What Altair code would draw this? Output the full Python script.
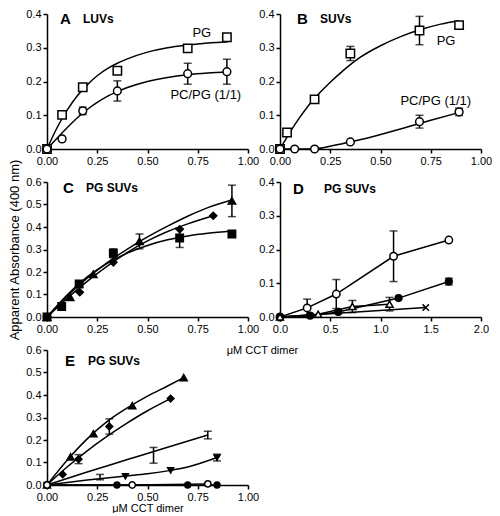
import altair as alt
import pandas as pd

FONT = "Liberation Sans"
W, H = 201, 135

# ---------------- Panel A : LUVs ----------------
A_X = [0, 0.075, 0.178, 0.35, 0.70, 0.895]
A_PG = [0, 0.101, 0.183, 0.232, 0.298, 0.331]
A_PCPG = [0, 0.030, 0.113, 0.172, 0.223, 0.229]
A_PCPG_ERR = [0, 0, 0.011, 0.030, 0.031, 0.037]
A_FIT_X = [0, 0.05, 0.1, 0.15, 0.2, 0.25, 0.3, 0.35, 0.4, 0.5, 0.6, 0.7, 0.8, 0.9]
A_FIT_PG = [0, 0.063, 0.115, 0.157, 0.19, 0.217, 0.238, 0.254, 0.267, 0.287, 0.300, 0.308, 0.314, 0.318]
A_FIT_PCPG = [0, 0.032, 0.063, 0.092, 0.117, 0.138, 0.156, 0.17, 0.182, 0.2, 0.212, 0.22, 0.225, 0.228]
A_LABELS = ["PG", "PC/PG (1/1)"]
A_LABEL_X = [0.77, 0.79]
A_LABEL_Y = [0.345, 0.159]

# ---------------- Panel B : SUVs ----------------
B_X_PG = [0, 0.035, 0.172, 0.35, 0.694, 0.891]
B_PG = [0, 0.049, 0.147, 0.283, 0.351, 0.367]
B_PG_ERR = [0, 0, 0, 0.021, 0.042, 0]
B_X_PCPG = [0, 0.073, 0.172, 0.35, 0.694, 0.891]
B_PCPG = [0, 0, 0, 0.021, 0.081, 0.110]
B_PCPG_ERR = [0, 0, 0, 0, 0.019, 0.011]
B_FIT_X = [0, 0.05, 0.1, 0.15, 0.2, 0.25, 0.3, 0.35, 0.4, 0.5, 0.6, 0.7, 0.8, 0.89]
B_FIT_PG = [0, 0.05, 0.095, 0.135, 0.168, 0.198, 0.225, 0.25, 0.272, 0.306, 0.333, 0.354, 0.37, 0.38]
B_FIT_PCPG_X = [0, 0.1, 0.18, 0.25, 0.35, 0.45, 0.55, 0.65, 0.75, 0.891]
B_FIT_PCPG = [0, 0, 0.001, 0.008, 0.021, 0.035, 0.051, 0.068, 0.085, 0.108]
B_LABELS = ["PG", "PC/PG (1/1)"]
B_LABEL_X = [0.826, 0.775]
B_LABEL_Y = [0.32, 0.141]

# ---------------- Panel C : PG SUVs ----------------
C_SQ_X = [0, 0.073, 0.16, 0.33, 0.66, 0.92]
C_SQ_Y = [0, 0.047, 0.147, 0.283, 0.351, 0.369]
C_SQ_ERR = [0, 0, 0, 0.02, 0.042, 0]
C_TRI_X = [0, 0.115, 0.23, 0.46, 0.92]
C_TRI_Y = [0, 0.088, 0.19, 0.336, 0.516]
C_TRI_ERR = [0, 0, 0, 0.033, 0.07]
C_DIA_X = [0, 0.163, 0.33, 0.66, 0.827]
C_DIA_Y = [0, 0.11, 0.243, 0.39, 0.45]
C_FIT_X = [0, 0.1, 0.2, 0.3, 0.4, 0.5, 0.6, 0.7, 0.8, 0.92]
C_FIT_TRI = [0, 0.092, 0.172, 0.242, 0.302, 0.356, 0.404, 0.448, 0.486, 0.52]
C_FIT_SQ = [0, 0.098, 0.178, 0.238, 0.284, 0.318, 0.343, 0.36, 0.372, 0.382]
C_FIT_DIA_X = [0, 0.1, 0.2, 0.3, 0.4, 0.5, 0.6, 0.7, 0.827]
C_FIT_DIA = [0, 0.083, 0.158, 0.226, 0.287, 0.338, 0.38, 0.414, 0.45]

# ---------------- Panel D : PG SUVs ----------------
D_OC_X = [0, 0.27, 0.56, 1.13, 1.68]
D_OC_Y = [0, 0.027, 0.068, 0.18, 0.228]
D_OC_ERR = [0, 0.026, 0.043, 0.075, 0]
D_FC_X = [0, 0.3, 0.58, 1.18, 1.68]
D_FC_Y = [0, 0.004, 0.015, 0.056, 0.105]
D_FC_ERR = [0, 0, 0, 0, 0.01]
D_OT_X = [0, 0.38, 0.72, 1.09]
D_OT_Y = [0, 0.008, 0.031, 0.038]
D_OT_ERR = [0, 0, 0.018, 0.02]
D_X_X = [0, 1.45]
D_X_Y = [0, 0.028]

# ---------------- Panel E : PG SUVs ----------------
E_TRI_X = [0, 0.117, 0.231, 0.424, 0.68]
E_TRI_Y = [0, 0.125, 0.228, 0.353, 0.477]
E_FIT_TRI_X = [0, 0.1, 0.2, 0.3, 0.4, 0.5, 0.6, 0.68]
E_FIT_TRI = [0, 0.11, 0.205, 0.283, 0.343, 0.395, 0.44, 0.477]
E_DIA_X = [0, 0.078, 0.157, 0.31, 0.615]
E_DIA_Y = [0, 0.047, 0.115, 0.26, 0.384]
E_DIA_ERR = [0, 0, 0.02, 0.034, 0]
E_FIT_DIA_X = [0, 0.1, 0.2, 0.3, 0.4, 0.5, 0.615]
E_FIT_DIA = [0, 0.08, 0.152, 0.217, 0.276, 0.33, 0.384]
E_BAR_X = [0, 0.264, 0.53, 0.80]
E_BAR_Y = [0, 0.035, 0.132, 0.222]
E_BAR_ERR = [0, 0.012, 0.035, 0.017]
E_FIT_BAR_X = [0, 0.2, 0.4, 0.6, 0.8]
E_FIT_BAR = [0, 0.058, 0.113, 0.168, 0.222]
E_DT_X = [0, 0.39, 0.615, 0.846]
E_DT_Y = [0, 0.039, 0.065, 0.122]
E_DT_ERR = [0, 0, 0, 0.015]
E_FIT_DT_X = [0, 0.2, 0.39, 0.5, 0.615, 0.7, 0.846]
E_FIT_DT = [0, 0.022, 0.04, 0.05, 0.065, 0.08, 0.122]
E_FC_X = [0, 0.348, 0.70, 0.846]
E_FC_Y = [0, 0, 0, 0]
E_OC_X = [0, 0.424, 0.80]
E_OC_Y = [0, 0, 0.005]

TICKS_01 = [0, 0.25, 0.5, 0.75, 1.0]
TICKS_02 = [0, 0.5, 1.0, 1.5, 2.0]
Y04 = [0, 0.1, 0.2, 0.3, 0.4]
Y06 = [0, 0.1, 0.2, 0.3, 0.4, 0.5, 0.6]

XPATH = "M-1,-1L1,1M-1,1L1,-1"
LW = 1.5


def frame(x, y):
    return pd.DataFrame({"x": x, "y": y})


def make_enc(xdom, ydom, xvals, yvals, xfmt, yfmt, xax=None, yax=None):
    xa = dict(values=xvals, format=xfmt, title=None)
    ya = dict(values=yvals, format=yfmt, title=None)
    if xax:
        xa.update(xax)
    if yax:
        ya.update(yax)
    X = alt.X("x:Q", scale=alt.Scale(domain=xdom, nice=False, zero=False), axis=alt.Axis(**xa))
    Y = alt.Y("y:Q", scale=alt.Scale(domain=ydom, nice=False, zero=False), axis=alt.Axis(**ya))
    return X, Y


def line(x, y, X, Y, interp="monotone"):
    return alt.Chart(frame(x, y)).mark_line(
        color="black", strokeWidth=LW, interpolate=interp
    ).encode(x=X, y=Y)


def points(x, y, X, Y, shape, fill, size):
    return alt.Chart(frame(x, y)).mark_point(
        shape=shape, filled=True, fill=fill, stroke="black",
        strokeWidth=LW, size=size, opacity=1
    ).encode(x=X, y=Y)


def errbars(x, y, e, X, Y):
    rows = [(xi, yi - ei, yi + ei) for xi, yi, ei in zip(x, y, e) if ei > 0]
    bars = pd.DataFrame(rows, columns=["x", "y", "y2"])
    caps = pd.DataFrame([(r[0], r[1]) for r in rows] + [(r[0], r[2]) for r in rows],
                        columns=["x", "y"])
    r = alt.Chart(bars).mark_rule(color="black", strokeWidth=LW).encode(
        x=X, y=Y, y2="y2:Q")
    t = alt.Chart(caps).mark_tick(orient="horizontal", size=8, thickness=LW,
                                  color="black").encode(x=X, y=Y)
    return [r, t]


def panel_label(text, px, py, size):
    return alt.Chart(pd.DataFrame({"t": [text]})).mark_text(
        align="left", baseline="middle", font=FONT, fontSize=size,
        fontWeight="bold", color="black"
    ).encode(x=alt.value(px), y=alt.value(py), text="t:N")


def data_text(texts, xs, ys, X, Y):
    df = pd.DataFrame({"x": xs, "y": ys, "t": texts})
    return alt.Chart(df).mark_text(
        align="center", baseline="middle", font=FONT, fontSize=13, color="black"
    ).encode(x=X, y=Y, text="t:N")


# ---- A ----
X, Y = make_enc([0, 1], [0, 0.4], TICKS_01, Y04, ".2f", ".1f")
pA = alt.layer(
    line(A_FIT_X, A_FIT_PG, X, Y),
    line(A_FIT_X, A_FIT_PCPG, X, Y),
    *errbars(A_X, A_PCPG, A_PCPG_ERR, X, Y),
    points(A_X, A_PG, X, Y, "square", "white", 70),
    points(A_X, A_PCPG, X, Y, "circle", "white", 60),
    data_text(A_LABELS, A_LABEL_X, A_LABEL_Y, X, Y),
    panel_label("A", 13, 5, 15),
    panel_label("LUVs", 36, 5, 12),
).properties(width=W, height=H)

# ---- B ----
X, Y = make_enc([0, 1], [0, 0.4], TICKS_01, Y04, ".2f", ".1f")
pB = alt.layer(
    line(B_FIT_X, B_FIT_PG, X, Y),
    line(B_FIT_PCPG_X, B_FIT_PCPG, X, Y),
    *errbars(B_X_PG, B_PG, B_PG_ERR, X, Y),
    *errbars(B_X_PCPG, B_PCPG, B_PCPG_ERR, X, Y),
    points(B_X_PG, B_PG, X, Y, "square", "white", 70),
    points(B_X_PCPG, B_PCPG, X, Y, "circle", "white", 60),
    data_text(B_LABELS, B_LABEL_X, B_LABEL_Y, X, Y),
    panel_label("B", 17, 5, 15),
    panel_label("SUVs", 40, 5, 12),
).properties(width=W, height=H)

# ---- C ----
X, Y = make_enc([0, 1], [0, 0.6], TICKS_01, Y06, ".2f", ".1f",
                xax=dict(title="\u03bcM CCT dimer", titleX=215, titleY=33,
                         titleBaseline="middle", titleFontSize=11),
                yax=dict(title="Apparent Absorbance (400 nm)", titlePadding=4))
pC = alt.layer(
    line(C_FIT_X, C_FIT_TRI, X, Y),
    line(C_FIT_X, C_FIT_SQ, X, Y),
    line(C_FIT_DIA_X, C_FIT_DIA, X, Y),
    *errbars(C_SQ_X, C_SQ_Y, C_SQ_ERR, X, Y),
    *errbars(C_TRI_X, C_TRI_Y, C_TRI_ERR, X, Y),
    points(C_SQ_X, C_SQ_Y, X, Y, "square", "black", 55),
    points(C_TRI_X, C_TRI_Y, X, Y, "triangle-up", "black", 55),
    points(C_DIA_X, C_DIA_Y, X, Y, "diamond", "black", 50),
    panel_label("C", 16, 6, 15),
    panel_label("PG SUVs", 39, 6, 12),
).properties(width=W, height=H)

# ---- D ----
X, Y = make_enc([0, 2], [0, 0.4], TICKS_02, Y04, ".1f", ".1f")
pD = alt.layer(
    line(D_OC_X, D_OC_Y, X, Y, "linear"),
    line(D_FC_X, D_FC_Y, X, Y, "linear"),
    line(D_OT_X, D_OT_Y, X, Y, "linear"),
    line(D_X_X, D_X_Y, X, Y, "linear"),
    *errbars(D_OC_X, D_OC_Y, D_OC_ERR, X, Y),
    *errbars(D_FC_X, D_FC_Y, D_FC_ERR, X, Y),
    *errbars(D_OT_X, D_OT_Y, D_OT_ERR, X, Y),
    points(D_OC_X, D_OC_Y, X, Y, "circle", "white", 55),
    points(D_FC_X, D_FC_Y, X, Y, "circle", "black", 45),
    points(D_OT_X, D_OT_Y, X, Y, "triangle-up", "white", 50),
    alt.Chart(frame(D_X_X[1:], D_X_Y[1:])).mark_point(
        shape=XPATH, filled=False, stroke="black", strokeWidth=LW, size=40, opacity=1
    ).encode(x=X, y=Y),
    panel_label("D", 13, 7, 15),
    panel_label("PG SUVs", 44, 7, 12),
).properties(width=W, height=H)

# ---- E ----
X, Y = make_enc([0, 1], [0, 0.6], TICKS_01, Y06, ".2f", ".1f",
                xax=dict(title="\u03bcM CCT dimer", titlePadding=0, titleFontSize=11))
pE = alt.layer(
    line(E_FIT_TRI_X, E_FIT_TRI, X, Y),
    line(E_FIT_DIA_X, E_FIT_DIA, X, Y),
    line(E_FIT_BAR_X, E_FIT_BAR, X, Y),
    line(E_FIT_DT_X, E_FIT_DT, X, Y),
    line(E_FC_X, E_FC_Y, X, Y, "linear"),
    line(E_OC_X, E_OC_Y, X, Y, "linear"),
    *errbars(E_DIA_X, E_DIA_Y, E_DIA_ERR, X, Y),
    *errbars(E_BAR_X, E_BAR_Y, E_BAR_ERR, X, Y),
    *errbars(E_DT_X, E_DT_Y, E_DT_ERR, X, Y),
    points(E_TRI_X, E_TRI_Y, X, Y, "triangle-up", "black", 50),
    points(E_DIA_X, E_DIA_Y, X, Y, "diamond", "black", 45),
    points(E_DT_X, E_DT_Y, X, Y, "triangle-down", "black", 35),
    points(E_FC_X, E_FC_Y, X, Y, "circle", "black", 35),
    points(E_OC_X, E_OC_Y, X, Y, "circle", "white", 40),
    panel_label("E", 18, 11, 15),
    panel_label("PG SUVs", 41, 11, 12),
).properties(width=W, height=H)

chart = alt.concat(
    pA, pB, pC, pD, pE, columns=2,
    spacing={"row": 33, "column": 32}, bounds="flush"
).properties(padding=0).configure_axis(
    labelFont=FONT, labelFontSize=11, labelColor="black",
    titleFont=FONT, titleFontSize=13, titleColor="black", titleFontWeight="normal",
    domainColor="black", domainWidth=1.5, tickColor="black", tickWidth=1.5,
    tickSize=4, labelPadding=2, grid=False, labelFlush=False, labelOverlap=False
).configure_view(strokeWidth=0)

chart.save("out.html", embed_options={"renderer": "svg", "actions": False})
